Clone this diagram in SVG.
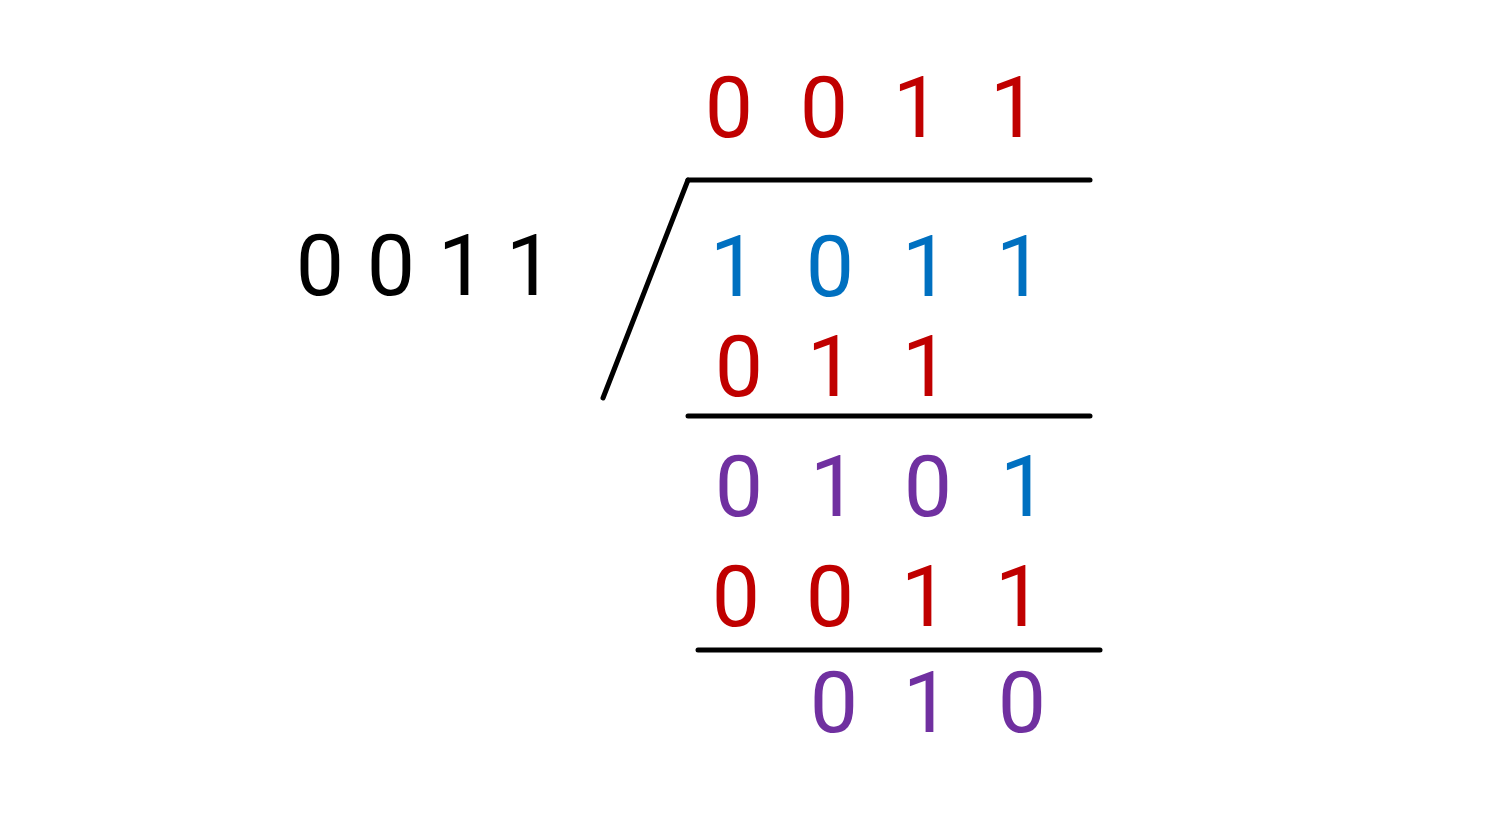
<svg xmlns="http://www.w3.org/2000/svg" width="1489" height="815" viewBox="0 0 1489 815">
<style>
text{font-family:Roboto,"Noto Sans",sans-serif;font-size:86px;text-anchor:middle}
.r{fill:#C00000}.b{fill:#0070C0}.p{fill:#7030A0}.k{fill:#000}
line{stroke:#000;stroke-width:5;stroke-linecap:round}
</style>
<rect width="1489" height="815" fill="#fff"/>
<g id="divisor" class="k"><text x="320" y="295">0</text><text x="391" y="295">0</text><text x="462" y="295">1</text><text x="530" y="295">1</text></g>
<g id="quotient" class="r"><text x="729" y="137">0</text><text x="824" y="137">0</text><text x="917" y="137">1</text><text x="1014" y="137">1</text></g>
<g id="connectors">
<line x1="688" y1="180" x2="1090" y2="180"/>
<line x1="688" y1="180" x2="603" y2="398"/>
<line x1="688" y1="416" x2="1090" y2="416"/>
<line x1="698" y1="650" x2="1100" y2="650"/>
</g>
<g id="dividend" class="b"><text x="734" y="296">1</text><text x="830" y="296">0</text><text x="926" y="296">1</text><text x="1020" y="296">1</text></g>
<g id="sub1" class="r"><text x="739" y="396">0</text><text x="831" y="396">1</text><text x="926" y="396">1</text></g>
<g id="rem1"><text class="p" x="739" y="516">0</text><text class="p" x="834" y="516">1</text><text class="p" x="928" y="516">0</text><text class="b" x="1024" y="516">1</text></g>
<g id="sub2" class="r"><text x="736" y="626">0</text><text x="830" y="626">0</text><text x="925" y="626">1</text><text x="1019" y="626">1</text></g>
<g id="remainder" class="p"><text x="834" y="732">0</text><text x="927" y="732">1</text><text x="1022" y="732">0</text></g>
</svg>
